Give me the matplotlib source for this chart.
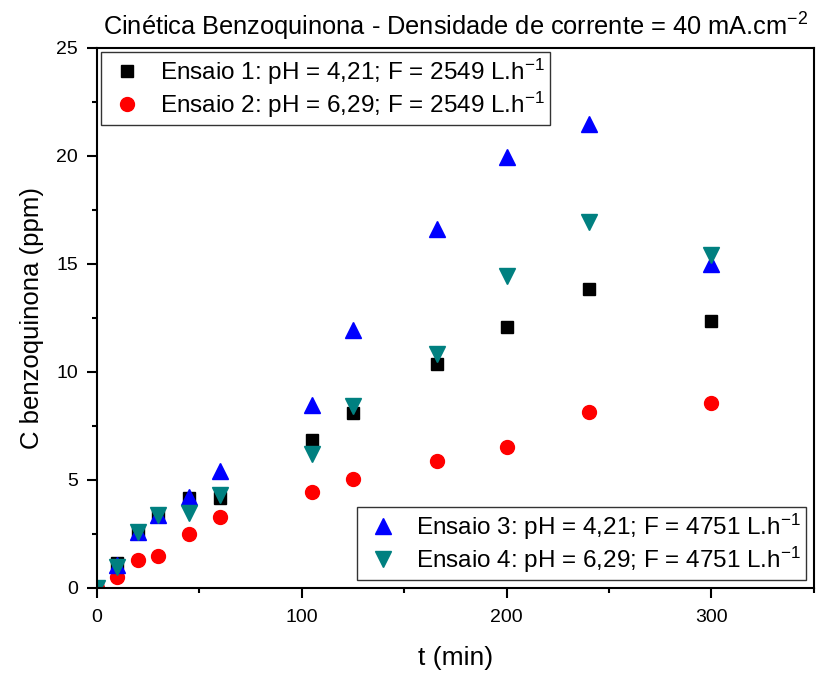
import matplotlib
matplotlib.use("Agg")
import matplotlib.pyplot as plt

plt.rcParams['font.family'] = ['Liberation Sans', 'DejaVu Sans']
plt.rcParams['mathtext.default'] = 'regular'

t = [0, 10, 20, 30, 45, 60, 105, 125, 166, 200, 240, 300]
ensaio1 = [0, 1.15, 2.6, 3.35, 4.15, 4.15, 6.85, 8.1, 10.37, 12.08, 13.85, 12.37]
ensaio2 = [0, 0.5, 1.3, 1.48, 2.5, 3.3, 4.45, 5.05, 5.88, 6.53, 8.15, 8.57]
ensaio3 = [0, 1.05, 2.6, 3.38, 4.2, 5.4, 8.45, 11.95, 16.6, 19.95, 21.5, 15.0]
ensaio4 = [0, 0.97, 2.6, 3.38, 3.45, 4.3, 6.2, 8.4, 10.85, 14.45, 16.95, 15.4]

labels = ['Ensaio 1: pH = 4,21; F = 2549 L.h$^{-1}$',
          'Ensaio 2: pH = 6,29; F = 2549 L.h$^{-1}$',
          'Ensaio 3: pH = 4,21; F = 4751 L.h$^{-1}$',
          'Ensaio 4: pH = 6,29; F = 4751 L.h$^{-1}$']

fig = plt.figure(figsize=(8.22, 6.75), dpi=100)
ax = fig.add_axes([0.118, 0.129, 0.872, 0.800])

h1, = ax.plot(t, ensaio1, 's', color='black', ms=8.5, ls='none', label=labels[0])
h2, = ax.plot(t, ensaio2, 'o', color='#FF0000', ms=10, ls='none', label=labels[1])
h3, = ax.plot(t, ensaio3, '^', color='#0000FF', ms=11, ls='none', label=labels[2])
h4, = ax.plot(t, ensaio4, 'v', color='#008080', ms=11, ls='none', label=labels[3])

ax.set_xlim(0, 350)
ax.set_ylim(0, 25)
ax.set_xticks([0, 100, 200, 300])
ax.set_xticks([50, 150, 250, 350], minor=True)
ax.set_yticks([0, 5, 10, 15, 20, 25])
ax.set_yticks([2.5, 7.5, 12.5, 17.5, 22.5], minor=True)
ax.tick_params(which='major', direction='out', length=7, width=1.5, labelsize=14, top=False, right=False)
ax.tick_params(which='minor', direction='out', length=3.5, width=1.5, top=False, right=False)
ax.tick_params(axis='x', which='major', pad=8.5)
ax.tick_params(axis='y', which='major', pad=6.5)
for s in ax.spines.values():
    s.set_linewidth(1.5)

ax.set_xlabel('t (min)', fontsize=19, labelpad=14)
ax.set_ylabel('C benzoquinona (ppm)', fontsize=18.5, labelpad=9)
ax.set_title('Cinética Benzoquinona - Densidade de corrente = 40 mA.cm$^{-2}$', fontsize=18.3, pad=9)

leg1 = ax.legend(handles=[h1, h2], loc='upper left', fontsize=17.5, frameon=True,
                 fancybox=False, edgecolor='black', borderaxespad=0.15,
                 handletextpad=0.45, labelspacing=0.12, borderpad=0.2,
                 handlelength=1.8)
leg1.get_frame().set_linewidth(1.0)
ax.add_artist(leg1)
leg2 = ax.legend(handles=[h3, h4], loc='lower right', fontsize=17.5, frameon=True,
                 fancybox=False, edgecolor='black', borderaxespad=0.33,
                 handletextpad=0.45, labelspacing=0.12, borderpad=0.2,
                 handlelength=1.8)
leg2.get_frame().set_linewidth(1.0)

fig.savefig('out.png', dpi=100)
